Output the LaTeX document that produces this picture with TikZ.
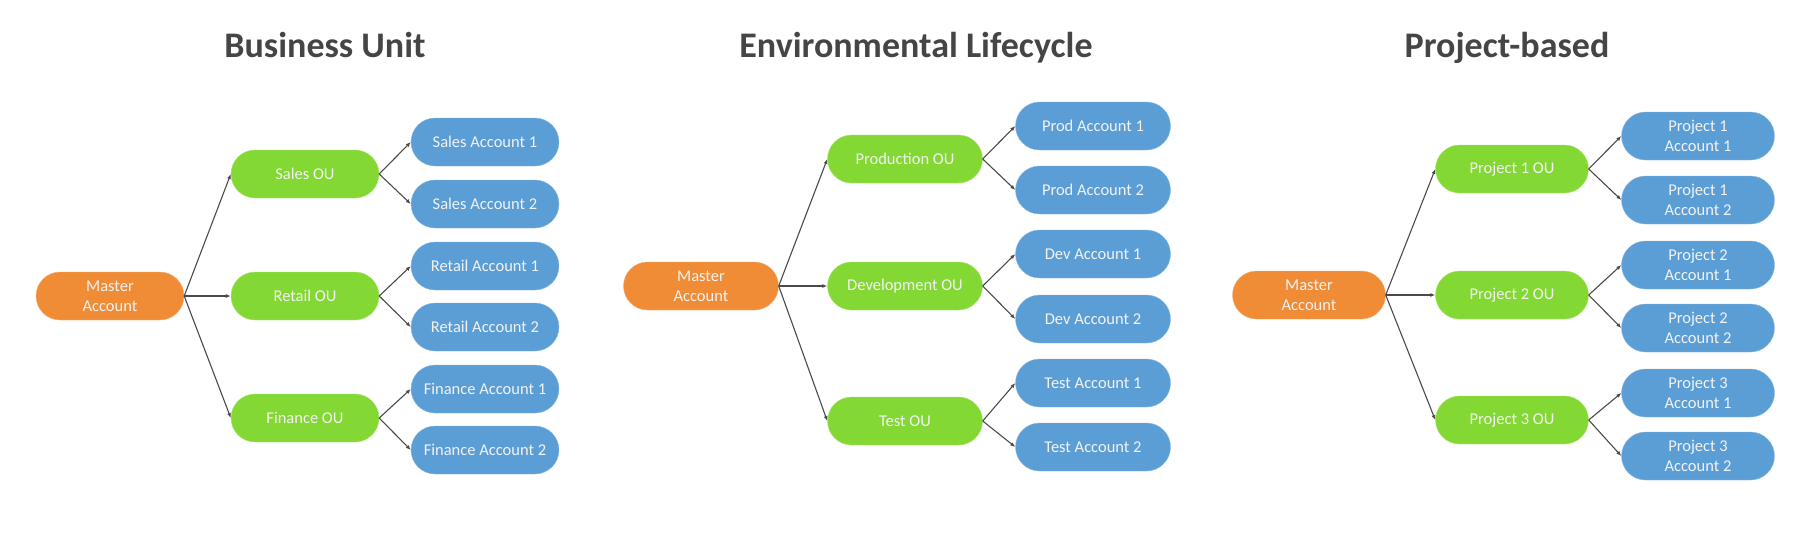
\documentclass[tikz,border=0pt]{standalone}
\usepackage{fontspec}
\setmainfont{Carlito}
\usepackage{xcolor}
\usepackage{tikz}
\usetikzlibrary{arrows.meta}
\definecolor{mastorange}{HTML}{F08C36}
\definecolor{ougreen}{HTML}{84D834}
\definecolor{acctblue}{HTML}{5B9DD5}
\definecolor{headgray}{HTML}{454545}
\definecolor{linkgray}{HTML}{4A4A4A}

\begin{document}
\begin{tikzpicture}[x=1pt,y=-1pt,>={Latex[length=5pt,width=4pt]},
    pill/.style={rounded corners=24pt,minimum height=48pt,inner sep=0pt,align=center,
                 text=white!95!black,font=\fontsize{16.5}{20}\selectfont},
    master/.style={pill,fill=mastorange,draw=mastorange!70!white},
    ou/.style={pill,fill=ougreen,draw=ougreen!70!white},
    acct/.style={pill,fill=acctblue,draw=acctblue!70!white},
    heading/.style={anchor=base,text=headgray,font=\fontsize{36}{40}\selectfont\bfseries},
    link/.style={->,draw=linkgray,line width=1.1pt}]
  \useasboundingbox (0,0) rectangle (1794,539);

  % Business Unit
  \begin{scope}[every node/.append style={minimum width=148pt}]
    \node[heading] (bu) at (325,57) {Business Unit};
    \node[master] (bm) at (110,296) {Master\\Account};
    \node[ou] (bo1) at (305,174) {Sales OU};
    \node[ou] (bo2) at (305,296) {Retail OU};
    \node[ou] (bo3) at (305,418) {Finance OU};
    \node[acct] (ba1) at (485,142) {Sales Account 1};
    \node[acct] (ba2) at (485,204) {Sales Account 2};
    \node[acct] (ba3) at (485,266) {Retail Account 1};
    \node[acct] (ba4) at (485,327) {Retail Account 2};
    \node[acct] (ba5) at (485,389) {Finance Account 1};
    \node[acct] (ba6) at (485,450) {Finance Account 2};
  \end{scope}

  % Environmental Lifecycle
  \begin{scope}[every node/.append style={minimum width=155pt}]
    \node[heading] (el) at (916,57) {Environmental Lifecycle};
    \node[master] (em) at (701,286) {Master\\Account};
    \node[ou] (eo1) at (905,159) {Production OU};
    \node[ou] (eo2) at (905,286) {Development OU};
    \node[ou] (eo3) at (905,421) {Test OU};
    \node[acct] (ea1) at (1093,126) {Prod Account 1};
    \node[acct] (ea2) at (1093,190) {Prod Account 2};
    \node[acct] (ea3) at (1093,254) {Dev Account 1};
    \node[acct] (ea4) at (1093,319) {Dev Account 2};
    \node[acct] (ea5) at (1093,383) {Test Account 1};
    \node[acct] (ea6) at (1093,447) {Test Account 2};
  \end{scope}

  % Project-based
  \begin{scope}[every node/.append style={minimum width=153pt}]
    \node[heading] (pb) at (1507,57) {Project-based};
    \node[master] (pm) at (1309,295) {Master\\Account};
    \node[ou] (po1) at (1512,169) {Project 1 OU};
    \node[ou] (po2) at (1512,295) {Project 2 OU};
    \node[ou] (po3) at (1512,420) {Project 3 OU};
    \node[acct] (pa1) at (1698,136) {Project 1\\Account 1};
    \node[acct] (pa2) at (1698,200) {Project 1\\Account 2};
    \node[acct] (pa3) at (1698,265) {Project 2\\Account 1};
    \node[acct] (pa4) at (1698,328) {Project 2\\Account 2};
    \node[acct] (pa5) at (1698,393) {Project 3\\Account 1};
    \node[acct] (pa6) at (1698,456) {Project 3\\Account 2};
  \end{scope}

  \draw[link] (bm.east) -- (bo1.west);
  \draw[link] (bm.east) -- (bo2.west);
  \draw[link] (bm.east) -- (bo3.west);
  \draw[link] (bo1.east) -- (ba1.west);
  \draw[link] (bo1.east) -- (ba2.west);
  \draw[link] (bo2.east) -- (ba3.west);
  \draw[link] (bo2.east) -- (ba4.west);
  \draw[link] (bo3.east) -- (ba5.west);
  \draw[link] (bo3.east) -- (ba6.west);

  \draw[link] (em.east) -- (eo1.west);
  \draw[link] (em.east) -- (eo2.west);
  \draw[link] (em.east) -- (eo3.west);
  \draw[link] (eo1.east) -- (ea1.west);
  \draw[link] (eo1.east) -- (ea2.west);
  \draw[link] (eo2.east) -- (ea3.west);
  \draw[link] (eo2.east) -- (ea4.west);
  \draw[link] (eo3.east) -- (ea5.west);
  \draw[link] (eo3.east) -- (ea6.west);

  \draw[link] (pm.east) -- (po1.west);
  \draw[link] (pm.east) -- (po2.west);
  \draw[link] (pm.east) -- (po3.west);
  \draw[link] (po1.east) -- (pa1.west);
  \draw[link] (po1.east) -- (pa2.west);
  \draw[link] (po2.east) -- (pa3.west);
  \draw[link] (po2.east) -- (pa4.west);
  \draw[link] (po3.east) -- (pa5.west);
  \draw[link] (po3.east) -- (pa6.west);
\end{tikzpicture}
\end{document}
